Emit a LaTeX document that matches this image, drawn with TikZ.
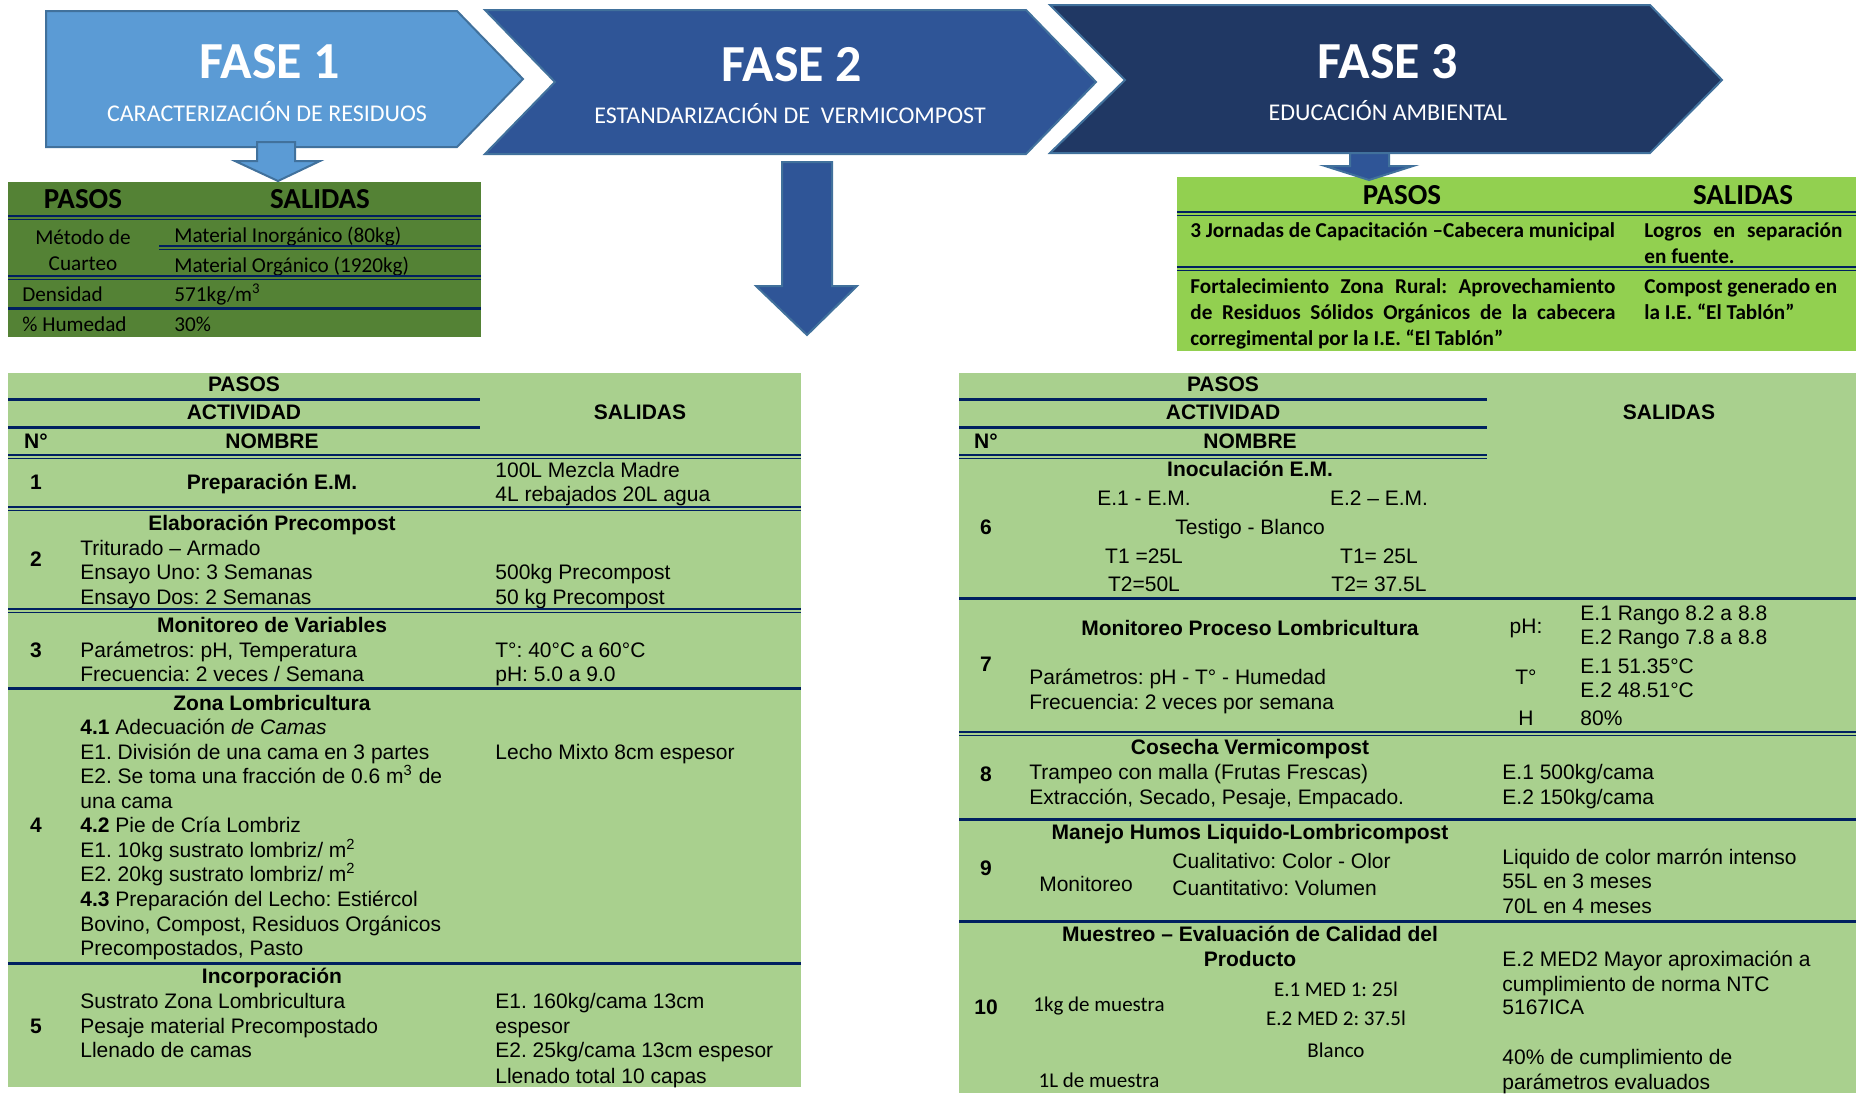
\documentclass[tikz,border=0pt]{standalone}
\usepackage{fontspec}
\setmainfont{Liberation Sans}
\newfontfamily\calibri{Carlito}
\frenchspacing

\definecolor{faseuno}{HTML}{5B9BD5}
\definecolor{fasedos}{HTML}{2F5597}
\definecolor{fasetres}{HTML}{203864}
\definecolor{borde}{HTML}{41719C}
\definecolor{verdeuno}{HTML}{548235}
\definecolor{verdetres}{HTML}{92D050}
\definecolor{verdeclaro}{HTML}{A9D08E}
\definecolor{marino}{HTML}{002060}

% double rule: x1, x2, y
\newcommand{\dline}[3]{%
  \draw [marino, line width=1pt] (#1,#3) -- (#2,#3);
  \draw [marino, line width=0.5pt] (#1,{#3+3.5}) -- (#2,{#3+3.5});}
% thick single rule: x1, x2, y
\newcommand{\tline}[3]{%
  \draw [marino, line width=1.5pt] (#1,#3) -- (#2,#3);}

\tikzset{
  fasebox/.style={draw=borde, line width=1pt},
  fasetit/.style={font=\calibri\bfseries\fontsize{26}{30}\selectfont, text=white},
  fasesub/.style={font=\calibri\fontsize{12}{14}\selectfont, text=white, yshift=1pt},
  cabtab/.style={font=\calibri\bfseries\fontsize{14.5}{17}\selectfont},
  txtuno/.style={font=\calibri\fontsize{10.6}{13}\selectfont, anchor=mid west, yshift=-1.1pt},
  txtunoc/.style={font=\calibri\fontsize{10.6}{13}\selectfont, anchor=mid, yshift=-1.1pt},
  txttres/.style={font=\calibri\bfseries\fontsize{10.6}{13}\selectfont, anchor=mid west, yshift=-0.5pt},
  celda/.style={font=\fontsize{10.5}{12.25}\selectfont, anchor=mid west, yshift=-0.7pt},
  celdac/.style={font=\fontsize{10.5}{12.25}\selectfont, anchor=mid, yshift=-0.7pt},
  titulo/.style={font=\bfseries\fontsize{10.5}{12.25}\selectfont, anchor=mid, yshift=-0.7pt},
  muestra/.style={font=\calibri\fontsize{10.5}{12.25}\selectfont, anchor=mid, yshift=-0.7pt},
}

\begin{document}
\begin{tikzpicture}[x=0.5pt, y=-0.5pt]
  \tikzstyle{every node}+=[inner sep=0pt]
  \useasboundingbox [fill=white] (0,0) rectangle (1856,1093);

  % fases
  \draw [fasebox, fill=faseuno] (46,11) -- (457,11) -- (523,79) -- (457,147) -- (46,147) -- cycle;
  \draw [fasebox, fill=fasedos] (485,10) -- (1026,10) -- (1096,82) -- (1026,154) -- (485,154) -- (555,82) -- cycle;
  \draw [fasebox, fill=fasetres] (1050,5) -- (1650,5) -- (1722,80) -- (1650,153) -- (1050,153) -- (1125,80) -- cycle;
  \node [fasetit] (f1) at (270,62) {FASE 1};
  \node [fasesub] (f1s) at (267,114) {CARACTERIZACIÓN DE RESIDUOS};
  \node [fasetit] (f2) at (792,65) {FASE 2};
  \node [fasesub] (f2s) at (790,116) {ESTANDARIZACIÓN DE~ VERMICOMPOST};
  \node [fasetit] (f3) at (1388,62) {FASE 3};
  \node [fasesub] (f3s) at (1388,113) {EDUCACIÓN AMBIENTAL};

  % flechas hacia abajo
  \draw [fasebox, fill=faseuno] (257,142) -- (295,142) -- (295,161) -- (320,161) -- (278,181) -- (235,161) -- (257,161) -- cycle;
  \draw [fasebox, fill=fasedos] (782,162) -- (832,162) -- (832,286) -- (857,286) -- (807,335) -- (756,286) -- (782,286) -- cycle;

  % tabla fase 1
  \fill [verdeuno] (8,182) rectangle (481,337);
  \node [cabtab] (p1) at (83,199) {PASOS};
  \node [cabtab] (s1) at (320,199) {SALIDAS};
  \dline{8}{481}{216}
  \node [txtunoc] (met) at (83,237) {Método de};
  \node [txtunoc] (cua) at (83,263) {Cuarteo};
  \node [txtuno] (inorg) at (174,235) {Material Inorgánico (80kg)};
  \dline{159}{481}{246}
  \node [txtuno] (org) at (174,265) {Material Orgánico (1920kg)};
  \dline{8}{481}{276}
  \node [txtuno] (dens) at (22,294) {Densidad};
  \node [txtuno] (densv) at (174,294) {571kg/m\textsuperscript{3}};
  \tline{8}{481}{308}
  \node [txtuno] (hum) at (22,324) {\% Humedad};
  \node [txtuno] (humv) at (174,324) {30\%};

  % tabla fase 3
  \fill [verdetres] (1177,177) rectangle (1856,351);
  \draw [fasebox, fill=fasedos] (1350,153) -- (1389,153) -- (1389,166) -- (1413,166) -- (1369,180) -- (1325,166) -- (1350,166) -- cycle;
  \node [cabtab] (p3) at (1402,195) {PASOS};
  \node [cabtab] (s3) at (1743,195) {SALIDAS};
  \dline{1177}{1856}{212}
  \node [txttres] (jor) at (1190,231) {3 Jornadas de Capacitación –Cabecera municipal};
  \node [txttres] (log) at (1644,231) {\makebox[99pt][s]{Logros en separación}};
  \node [txttres] (fue) at (1644,257) {en fuente.};
  \dline{1177}{1856}{267}
  \node [txttres] (fora) at (1190,287) {\makebox[212.5pt][s]{Fortalecimiento Zona Rural: Aprovechamiento}};
  \node [txttres] (forb) at (1190,313) {\makebox[212.5pt][s]{de Residuos Sólidos Orgánicos de la cabecera}};
  \node [txttres] (forc) at (1190,339) {corregimental por la I.E. “El Tablón”};
  \node [txttres] (coma) at (1644,287) {Compost generado en};
  \node [txttres] (comb) at (1644,313) {la I.E. “El Tablón”};

  % tabla fase 2, izquierda
  \fill [verdeclaro] (8,373) rectangle (801,1087);
  \node [titulo] (pa) at (244,385) {PASOS};
  \tline{8}{480}{399}
  \node [titulo] (ac) at (244,413) {ACTIVIDAD};
  \tline{8}{480}{427}
  \node [titulo] (na) at (36,442) {N°};
  \node [titulo] (noa) at (272,442) {NOMBRE};
  \node [titulo] (sa) at (640,413) {SALIDAS};
  \dline{8}{801}{455}
  \node [titulo] (n1) at (36,483) {1};
  \node [titulo] (t1) at (272,483) {Preparación E.M.};
  \node [celda] (s1a) at (495,471) {100L Mezcla Madre};
  \node [celda] (s1b) at (495,495) {4L rebajados 20L agua};
  \dline{8}{801}{507}
  \node [titulo] (n2) at (36,560) {2};
  \node [titulo] (t2) at (272,524) {Elaboración Precompost};
  \node [celda] (a2a) at (80,549) {Triturado – Armado};
  \node [celda] (a2b) at (80,573) {Ensayo Uno: 3 Semanas};
  \node [celda] (a2c) at (80,598) {Ensayo Dos: 2 Semanas};
  \node [celda] (s2a) at (495,573) {500kg Precompost};
  \node [celda] (s2b) at (495,598) {50 kg Precompost};
  \dline{8}{801}{609}
  \node [titulo] (n3) at (36,651) {3};
  \node [titulo] (t3) at (272,626) {Monitoreo de Variables};
  \node [celda] (a3a) at (80,651) {Parámetros: pH, Temperatura};
  \node [celda] (a3b) at (80,675) {Frecuencia: 2 veces / Semana};
  \node [celda] (s3a) at (495,651) {T°: 40°C a 60°C};
  \node [celda] (s3b) at (495,675) {pH: 5.0 a 9.0};
  \tline{8}{801}{688}
  \node [titulo] (n4) at (36,826) {4};
  \node [titulo] (t4) at (272,704) {Zona Lombricultura};
  \node [celda] (a4a) at (80,728) {\textbf{4.1} Adecuación \textit{de Camas}};
  \node [celda] (a4b) at (80,753) {E1. División de una cama en 3 partes};
  \node [celda] (a4c) at (80,777) {E2. Se toma una fracción de 0.6 m\textsuperscript{3} de};
  \node [celda] (a4d) at (80,802) {una cama};
  \node [celda] (a4e) at (80,826) {\textbf{4.2} Pie de Cría Lombriz};
  \node [celda] (a4f) at (80,851) {E1. 10kg sustrato lombriz/ m\textsuperscript{2}};
  \node [celda] (a4g) at (80,875) {E2. 20kg sustrato lombriz/ m\textsuperscript{2}};
  \node [celda] (a4h) at (80,900) {\textbf{4.3} Preparación del Lecho: Estiércol};
  \node [celda] (a4i) at (80,925) {Bovino, Compost, Residuos Orgánicos};
  \node [celda] (a4j) at (80,949) {Precompostados, Pasto};
  \node [celda] (s4a) at (495,753) {Lecho Mixto 8cm espesor};
  \tline{8}{801}{963}
  \node [titulo] (n5) at (36,1027) {5};
  \node [titulo] (t5) at (272,977) {Incorporación};
  \node [celda] (a5a) at (80,1002) {Sustrato Zona Lombricultura};
  \node [celda] (a5b) at (80,1027) {Pesaje material Precompostado};
  \node [celda] (a5c) at (80,1051) {Llenado de camas};
  \node [celda] (s5a) at (495,1002) {E1. 160kg/cama 13cm};
  \node [celda] (s5b) at (495,1027) {espesor};
  \node [celda] (s5c) at (495,1051) {E2. 25kg/cama 13cm espesor};
  \node [celda] (s5d) at (495,1077) {Llenado total 10 capas};

  % tabla fase 2, derecha
  \fill [verdeclaro] (959,373) rectangle (1856,1093);
  \node [titulo] (pb) at (1223,385) {PASOS};
  \tline{959}{1487}{399}
  \node [titulo] (acb) at (1223,413) {ACTIVIDAD};
  \tline{959}{1487}{427}
  \node [titulo] (nb) at (986,442) {N°};
  \node [titulo] (nob) at (1250,442) {NOMBRE};
  \node [titulo] (sb) at (1669,413) {SALIDAS};
  \dline{959}{1487}{455}
  \node [titulo] (n6) at (986,528) {6};
  \node [titulo] (t6) at (1250,470) {Inoculación E.M.};
  \node [celdac] (e6a) at (1144,499) {E.1 - E.M.};
  \node [celdac] (e6b) at (1379,499) {E.2 – E.M.};
  \node [celdac] (e6c) at (1250,528) {Testigo - Blanco};
  \node [celdac] (e6d) at (1144,557) {T1 =25L};
  \node [celdac] (e6e) at (1379,557) {T1= 25L};
  \node [celdac] (e6f) at (1144,585) {T2=50L};
  \node [celdac] (e6g) at (1379,585) {T2= 37.5L};
  \tline{959}{1856}{598}
  \node [titulo] (n7) at (986,665) {7};
  \node [titulo] (t7) at (1250,629) {Monitoreo Proceso Lombricultura};
  \node [celda] (a7a) at (1029,678) {Parámetros: pH - T° - Humedad};
  \node [celda] (a7b) at (1029,703) {Frecuencia: 2 veces por semana};
  \node [celdac] (ph) at (1526,627) {pH:};
  \node [celda] (s7a) at (1580,614) {E.1 Rango 8.2 a 8.8};
  \node [celda] (s7b) at (1580,638) {E.2 Rango 7.8 a 8.8};
  \node [celdac] (tem) at (1526,678) {T°};
  \node [celda] (s7c) at (1580,667) {E.1 51.35°C};
  \node [celda] (s7d) at (1580,691) {E.2 48.51°C};
  \node [celdac] (hh) at (1526,719) {H};
  \node [celda] (s7e) at (1580,719) {80\%};
  \dline{959}{1856}{732}
  \node [titulo] (n8) at (986,775) {8};
  \node [titulo] (t8) at (1250,748) {Cosecha Vermicompost};
  \node [celda] (a8a) at (1029,773) {Trampeo con malla (Frutas Frescas)};
  \node [celda] (a8b) at (1029,798) {Extracción, Secado, Pesaje, Empacado.};
  \node [celda] (s8a) at (1502,773) {E.1 500kg/cama};
  \node [celda] (s8b) at (1502,798) {E.2 150kg/cama};
  \tline{959}{1856}{819}
  \node [titulo] (n9) at (986,869) {9};
  \node [titulo] (t9) at (1250,833) {Manejo Humos Liquido-Lombricompost};
  \node [celdac] (mon) at (1086,885) {Monitoreo};
  \node [celda] (a9a) at (1172,862) {Cualitativo: Color - Olor};
  \node [celda] (a9b) at (1172,889) {Cuantitativo: Volumen};
  \node [celda] (s9a) at (1502,858) {Liquido de color marrón intenso};
  \node [celda] (s9b) at (1502,882) {55L en 3 meses};
  \node [celda] (s9c) at (1502,907) {70L en 4 meses};
  \tline{959}{1856}{921}
  \node [titulo] (n10) at (986,1008) {10};
  \node [titulo] (t10a) at (1250,935) {Muestreo – Evaluación de Calidad del};
  \node [titulo] (t10b) at (1250,960) {Producto};
  \node [muestra] (m1) at (1099,1005) {1kg de muestra};
  \node [muestra] (m2) at (1336,990) {E.1 MED 1: 25l};
  \node [muestra] (m3) at (1336,1019) {E.2 MED 2: 37.5l};
  \node [muestra] (m4) at (1336,1051) {Blanco};
  \node [muestra] (m5) at (1099,1081) {1L de muestra};
  \node [celda] (s10a) at (1502,960) {E.2 MED2 Mayor aproximación a};
  \node [celda] (s10b) at (1502,985) {cumplimiento de norma NTC};
  \node [celda] (s10c) at (1502,1008) {5167ICA};
  \node [celda] (s10d) at (1502,1058) {40\% de cumplimiento de};
  \node [celda] (s10e) at (1502,1083) {parámetros evaluados};
\end{tikzpicture}
\end{document}
